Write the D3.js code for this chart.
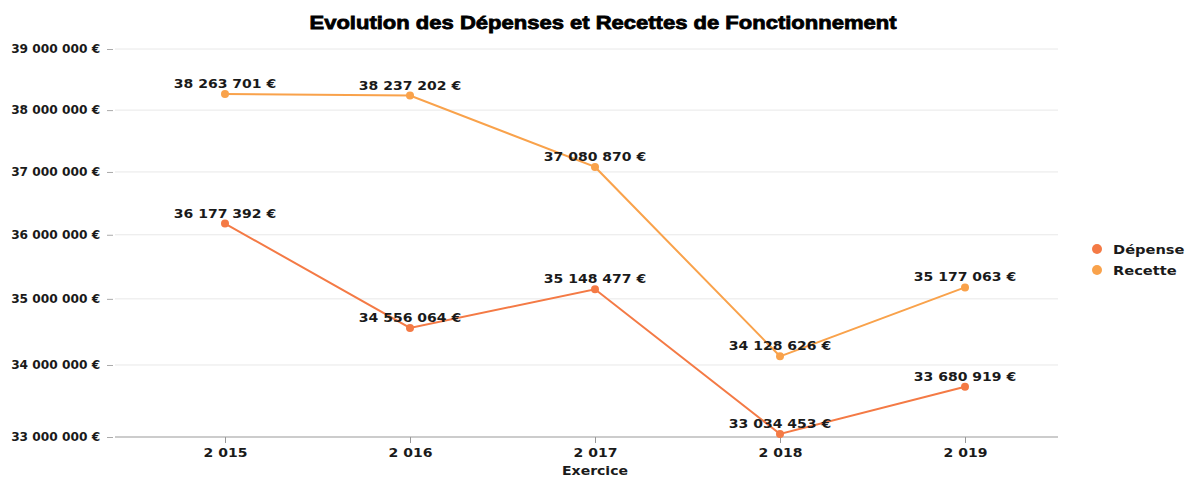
<!DOCTYPE html>
<html lang="fr">
<head>
  <meta charset="UTF-8">
  <title>Evolution des Dépenses et Recettes</title>
  <style>
    body { margin: 0; background: #fff; }
    svg { display: block; }
    .tick text, .lbl, .legend text { font-family: "DejaVu Sans", Verdana, sans-serif; font-weight: bold; fill: #1a1a1a; }
    .grid line { stroke: #e8e8e8; }
  </style>
</head>
<body>
  <svg id="chart" width="1186" height="477"></svg>
  <script src="https://d3js.org/d3.v7.min.js"></script>
  <script>
    const years = [2015, 2016, 2017, 2018, 2019];
    const depense = [36177392, 34556064, 35148477, 33034453, 33680919];
    const recette = [38263701, 38237202, 37080870, 34128626, 35177063];
    const yTicks = [33000000, 34000000, 35000000, 36000000, 37000000, 38000000, 39000000];

    const series = [
      { name: "Dépense", color: "#f47a45", values: depense },
      { name: "Recette", color: "#f9a24b", values: recette }
    ];

    const fr = d3.formatLocale({ decimal: ",", thousands: " ", grouping: [3], currency: ["", " €"] });
    const fmt = fr.format(",d");
    const SX = 1.22; // wide lettering of the original

    const svg = d3.select("#chart");
    const plotLeft = 115, plotRight = 1058, plotTop = 49, plotBottom = 437;

    const x = d3.scalePoint().domain(years).range([225, 965]);
    // value -> 0..1, then a slight power curve like the original picture
    const yNorm = d3.scaleLinear().domain([33000000, 39000000]).range([0, 1]);
    const yPx = d3.scalePow().exponent(0.94).domain([0, 1]).range([plotBottom, plotTop]);
    const y = v => yPx(yNorm(v));

    // title
    svg.append("text")
      .attr("x", 603).attr("y", 29)
      .attr("text-anchor", "middle")
      .attr("textLength", 587).attr("lengthAdjust", "spacingAndGlyphs")
      .style("font-family", "'Liberation Sans', Arial, sans-serif")
      .style("font-weight", "900").style("font-size", "19px")
      .style("stroke", "#000").style("stroke-width", "0.8px")
      .text("Evolution des Dépenses et Recettes de Fonctionnement");

    // grid
    svg.append("g").attr("class", "grid")
      .selectAll("line").data(yTicks.slice(1)).join("line")
      .attr("x1", plotLeft).attr("x2", plotRight)
      .attr("y1", d => y(d)).attr("y2", d => y(d));

    // y axis
    const yAxis = svg.append("g")
      .attr("transform", `translate(${plotLeft},0)`)
      .call(d3.axisLeft(yPx).tickValues(yTicks.map(yNorm)).tickSize(6).tickPadding(8)
        .tickFormat(d => fmt(Math.round(yNorm.invert(d))) + " €"));
    yAxis.select(".domain").remove();
    yAxis.selectAll(".tick line").attr("stroke", "#aaa").attr("transform", "translate(-2,0)");
    yAxis.selectAll(".tick text").style("font-size", "11.5px").attr("transform", "scale(1.06,1)");

    // x axis
    const xAxis = svg.append("g")
      .attr("transform", `translate(0,${plotBottom})`)
      .call(d3.axisBottom(x).tickSize(6).tickPadding(6).tickFormat(d => fmt(d)));
    xAxis.select(".domain").attr("d", `M${plotLeft},0H${plotRight}`).attr("stroke", "#999");
    xAxis.selectAll(".tick line").attr("stroke", "#999");
    xAxis.selectAll(".tick text").style("font-size", "11.5px").attr("transform", `scale(${SX},1)`);

    svg.append("text").attr("class", "lbl")
      .attr("transform", `translate(595,475) scale(${SX},1)`).attr("text-anchor", "middle")
      .style("font-size", "11.5px").text("Exercice");

    const line = d3.line().x((d, i) => x(years[i])).y(d => y(d));

    series.forEach(s => {
      const g = svg.append("g");
      g.append("path").datum(s.values)
        .attr("d", line).attr("fill", "none")
        .attr("stroke", s.color).attr("stroke-width", 2);
      g.selectAll("circle").data(s.values).join("circle")
        .attr("cx", (d, i) => x(years[i])).attr("cy", d => y(d))
        .attr("r", 4).attr("fill", s.color);
      g.selectAll("text").data(s.values).join("text").attr("class", "lbl")
        .attr("transform", (d, i) => `translate(${x(years[i])},${y(d) - 6}) scale(${SX},1)`)
        .attr("text-anchor", "middle").style("font-size", "11.5px")
        .text(d => fmt(d) + " €");
    });

    // legend
    const legend = svg.append("g").attr("class", "legend")
      .selectAll("g").data(series).join("g")
      .attr("transform", (d, i) => `translate(1097,${249 + i * 21})`);
    legend.append("circle").attr("r", 5).attr("fill", d => d.color);
    legend.append("text").attr("transform", `translate(16,4.5) scale(${SX},1)`)
      .style("font-size", "12px").text(d => d.name);
  </script>
</body>
</html>
